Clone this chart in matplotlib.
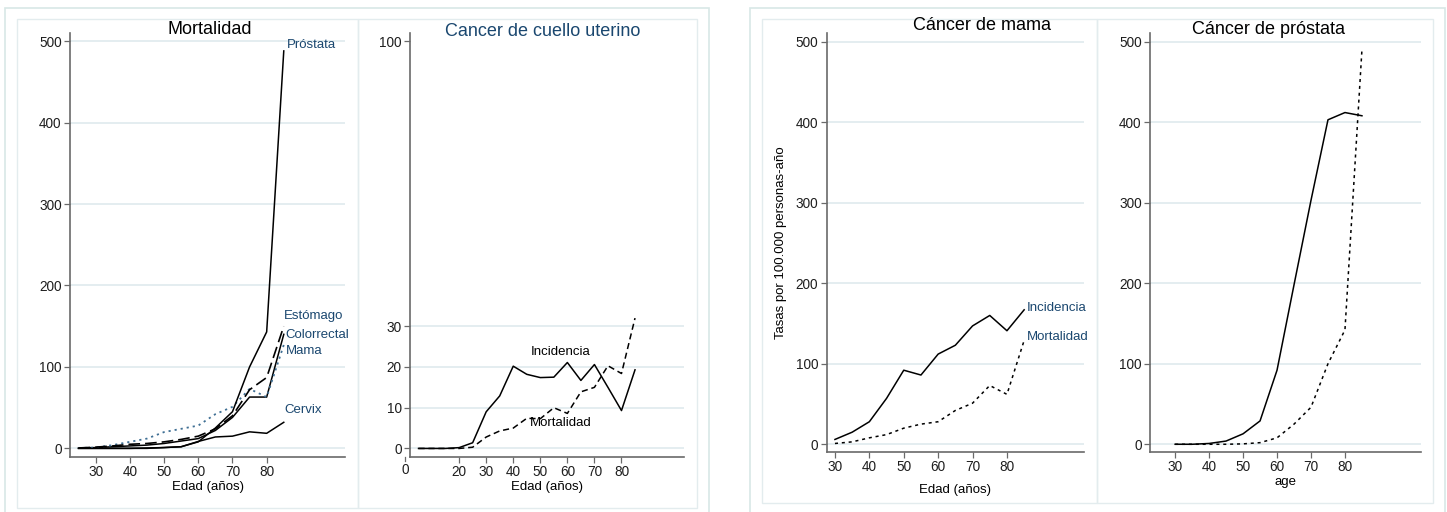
import matplotlib
matplotlib.use("Agg")
import matplotlib.pyplot as plt
from matplotlib.patches import Rectangle
from matplotlib.transforms import blended_transform_factory, ScaledTranslation

plt.rcParams['font.family'] = ['Liberation Sans', 'DejaVu Sans']

# ---------------- data ----------------
age_m = [25, 30, 35, 40, 45, 50, 55, 60, 65, 70, 75, 80, 85]
mort_prostata = [0, 0, 0, 0, 0.5, 1, 2, 8, 25, 45, 100, 143, 488]
mort_estomago = [0.5, 1.5, 3, 5, 6, 8, 11, 15, 24, 40, 72, 87, 150]
mort_colorrectal = [0.3, 1, 2, 3, 4, 6, 9, 12, 22, 38, 63, 63, 140]
mort_mama = [0.5, 1, 4, 8, 12, 20, 24, 28, 42, 51, 73, 63, 127]
mort_cervix = [0, 0, 0, 0, 0, 1, 2, 8.5, 14, 15, 20.3, 18.5, 32]

age_c = [5, 10, 15, 20, 25, 30, 35, 40, 45, 50, 55, 60, 65, 70, 75, 80, 85]
cerv_incid = [0, 0, 0, 0.2, 1.4, 9.0, 12.9, 20.2, 18.2, 17.4, 17.5, 21.1, 16.7, 20.6, 15.0, 9.3, 19.3]
cerv_mort = [0, 0, 0, 0, 0.3, 2.8, 4.3, 5.0, 7.4, 7.3, 10.0, 8.6, 13.9, 15.0, 20.3, 18.4, 32.0]

age_b = [30, 35, 40, 45, 50, 55, 60, 65, 70, 75, 80, 85]
mama_incid = [6, 15, 28, 57, 92, 86, 112, 123, 147, 160, 141, 167]
mama_mort = [1, 3, 8, 12, 20, 25, 28, 42, 51, 73, 62, 129]

age_p = [30, 35, 40, 45, 50, 55, 60, 65, 70, 75, 80, 85]
prost_incid = [0, 0, 1, 4, 13, 29, 92, 198, 303, 403, 412, 408]
prost_mort = [0, 0, 0, 0, 0.5, 2, 8, 25, 46, 100, 142, 490]

yticks_big = [0, 100, 200, 300, 400, 500]
yticks_cerv = [0, 10, 20, 30, 100]
xticks_age = [30, 40, 50, 60, 70, 80]
xticks_cerv = [20, 30, 40, 50, 60, 70, 80]

NAVY = '#1a476f'
GRID = '#dce8ec'
SPINE = '#6a6a6a'
BOX = '#e3ecee'
OUTER = '#d8e8e6'
FS = 9.8

W, H = 1447, 512
fig = plt.figure(figsize=(W / 100, H / 100), dpi=100)
fig.patch.set_facecolor('white')


def rect(l, r, t, b):
    return [l / W, 1 - b / H, (r - l) / W, (b - t) / H]


def frame(l, r, t, b, color, lw=1.0):
    fig.add_artist(Rectangle((l / W, 1 - b / H), (r - l) / W, (b - t) / H,
                             transform=fig.transFigure, fill=False,
                             edgecolor=color, linewidth=lw, zorder=0))


# outer boxes and panel boxes
frame(5, 709, 8, 530, OUTER, 1.2)
frame(750, 1445, 8, 530, OUTER, 1.2)
frame(17, 358, 19, 508, BOX)
frame(358, 697, 19, 508, BOX)
frame(762, 1097, 19, 503, BOX)
frame(1097, 1433, 19, 503, BOX)


def style(ax, yt, xt):
    for s in ['top', 'right']:
        ax.spines[s].set_visible(False)
    for s in ['left', 'bottom']:
        ax.spines[s].set_color(SPINE)
        ax.spines[s].set_linewidth(1.2)
    ax.set_yticks(yt)
    ax.set_xticks(xt)
    ax.tick_params(direction='out', length=4, width=0.9, color=SPINE,
                   labelsize=FS, pad=2, labelcolor='#1e1e1e')
    ax.yaxis.grid(True, color=GRID, linewidth=1.1)
    ax.set_axisbelow(True)
    ax.set_facecolor('white')


# -------- Panel 1: Mortalidad --------
ax1 = fig.add_axes(rect(70, 345, 33, 457))
style(ax1, yticks_big, xticks_age)
ax1.set_xlim(22.5, 102.9)
ax1.set_ylim(-10.6, 510)
ax1.plot(age_m, mort_cervix, color='black', lw=1.1)
ax1.plot(age_m, mort_colorrectal, color='black', lw=1.1)
ax1.plot(age_m, mort_mama, color='#3f6f94', lw=1.3, linestyle=(0, (1.2, 2.2)))
ax1.plot(age_m, mort_estomago, color='black', lw=1.2, linestyle=(0, (7, 3)))
ax1.plot(age_m, mort_prostata, color='black', lw=1.1)
for txt, x, y in [('Próstata', 85.9, 495), ('Estómago', 84.9, 162.7),
                  ('Colorrectal', 85.6, 139), ('Mama', 85.6, 119), ('Cervix', 85.1, 47)]:
    ax1.text(x, y, txt, color=NAVY, fontsize=9.5, va='center', ha='left')
ax1.set_xlabel('Edad (años)', fontsize=9.5, labelpad=1)
fig.text(210 / W, 1 - 29 / H, 'Mortalidad', fontsize=13, ha='center', va='center')

# -------- Panel 2: Cancer de cuello uterino --------
ax2 = fig.add_axes(rect(410, 684, 33, 457))
style(ax2, yticks_cerv, xticks_cerv)
ax2.set_xlim(1.85, 103.1)
ax2.set_ylim(-2.1, 102)
for gl, v in zip(ax2.get_ygridlines(), yticks_cerv):
    if v == 100:
        gl.set_visible(False)
ax2.plot(age_c, cerv_incid, color='black', lw=1.1)
ax2.plot(age_c, cerv_mort, color='black', lw=1.1, linestyle=(0, (4, 2.5)))
ax2.text(57.5, 23.7, 'Incidencia', fontsize=9.5, ha='center', va='center')
ax2.text(57.5, 6.2, 'Mortalidad', fontsize=9.5, ha='center', va='center')
# tick "0" lying left of the plot region
tr = blended_transform_factory(ax2.transData, ax2.transAxes)
tick_tr = tr + ScaledTranslation(0, -4 / 100, fig.dpi_scale_trans)
ax2.plot([0, 0], [0, 0.0094], transform=tick_tr, color=SPINE, lw=0.9, clip_on=False)
lab_tr = tr + ScaledTranslation(0, -6 / 100, fig.dpi_scale_trans)
ax2.text(0, 0, '0', transform=lab_tr, fontsize=FS, ha='center', va='top', color='#1e1e1e')
ax2.set_xlabel('Edad (años)', fontsize=9.5, labelpad=1)
fig.text(543 / W, 1 - 32 / H, 'Cancer de cuello uterino', fontsize=13,
         ha='center', va='center', color=NAVY)

# -------- Panel 3: Cáncer de mama --------
ax3 = fig.add_axes(rect(826.7, 1084, 33, 452))
style(ax3, yticks_big, xticks_age)
ax3.set_xlim(27.6, 102.4)
ax3.set_ylim(-9.6, 510.8)
ax3.plot(age_b, mama_incid, color='black', lw=1.1)
ax3.plot(age_b, mama_mort, color='black', lw=1.1, linestyle=(0, (2, 2.5)))
ax3.text(85.8, 169, 'Incidencia', color=NAVY, fontsize=9.5, ha='left', va='center')
ax3.text(85.8, 133.7, 'Mortalidad', color=NAVY, fontsize=9.5, ha='left', va='center')
ax3.set_xlabel('Edad (años)', fontsize=9.5, labelpad=7)
ax3.set_ylabel('Tasas por 100.000 personas-año', fontsize=9.5, labelpad=6)
fig.text(982 / W, 1 - 26 / H, 'Cáncer de mama', fontsize=13, ha='center', va='center')

# -------- Panel 4: Cáncer de próstata --------
ax4 = fig.add_axes(rect(1150, 1420.7, 33, 452))
style(ax4, yticks_big, xticks_age)
ax4.set_xlim(22.6, 102.3)
ax4.set_ylim(-9.6, 510.8)
ax4.plot(age_p, prost_incid, color='black', lw=1.1)
ax4.plot(age_p, prost_mort, color='black', lw=1.1, linestyle=(0, (2, 2.5)))
ax4.set_xlabel('age', fontsize=9.5, labelpad=1)
fig.text(1269 / W, 1 - 30 / H, 'Cáncer de próstata', fontsize=13, ha='center', va='center')

fig.savefig('out.png', dpi=100, facecolor='white')
